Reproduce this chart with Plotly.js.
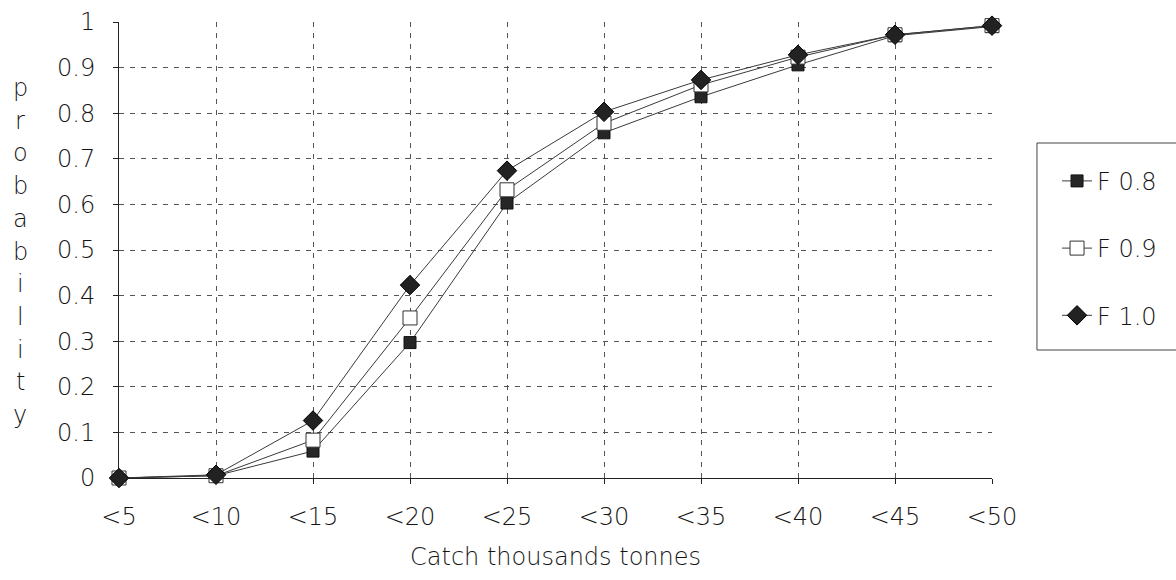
<!DOCTYPE html>
<html>
<head>
<meta charset="utf-8">
<script src="https://cdn.plot.ly/plotly-3.0.1.min.js"></script>
<style>
  html, body { margin: 0; padding: 0; background: #fff; }
  #chart { width: 1176px; height: 580px; }
</style>
</head>
<body>
<div id="chart"></div>
<script>
// Catch classes (thousands of tonnes)
const categories = ['<5', '<10', '<15', '<20', '<25', '<30', '<35', '<40', '<45', '<50'];

// Cumulative probability of catch below each class, by fishing mortality
const f08 = [0, 0.005, 0.059, 0.297, 0.603, 0.757, 0.836, 0.906, 0.97, 0.99];
const f09 = [0, 0.005, 0.083, 0.351, 0.632, 0.778, 0.862, 0.923, 0.972, 0.992];
const f10 = [0, 0.007, 0.126, 0.423, 0.674, 0.803, 0.873, 0.928, 0.972, 0.992];

const seriesNames = ['F 0.8', 'F 0.9', 'F 1.0'];
const yTitle = 'probability';
const xTitle = 'Catch thousands tonnes';

const FONT = 'DejaVu Sans, Liberation Sans, sans-serif';
const FW = 200;
const FS = 24;
const TEXT = '#151515';

const lineStyle = { color: '#3a3a3a', width: 1 };

const traces = [
  {
    x: categories, y: f08, name: seriesNames[0], legendgroup: 'a',
    mode: 'lines+markers', line: lineStyle, cliponaxis: false,
    marker: { symbol: 'square', size: 12, color: '#262626', line: { color: '#111', width: 1 } }
  },
  {
    x: categories, y: f09, name: seriesNames[1], legendgroup: 'b',
    mode: 'lines+markers', line: lineStyle, cliponaxis: false,
    marker: { symbol: 'square', size: 14, color: '#ffffff', line: { color: '#333', width: 1 } }
  },
  {
    x: categories, y: f10, name: seriesNames[2], legendgroup: 'c',
    mode: 'lines+markers', line: lineStyle, cliponaxis: false,
    marker: { symbol: 'diamond', size: 15, color: '#222', line: { color: '#000', width: 1 } }
  }
];

const fontSpec = { family: FONT, size: FS, color: TEXT, weight: FW };

// Vertical stacked y-axis title, one upright letter per row
const letterTop = 88, letterStep = 32.7, plotTop = 22, plotBottom = 478;
const annotations = yTitle.split('').map((ch, i) => ({
  text: ch, xref: 'paper', yref: 'paper', showarrow: false,
  x: -0.113, y: (plotBottom - (letterTop + i * letterStep)) / (plotBottom - plotTop),
  xanchor: 'center', yanchor: 'middle',
  font: fontSpec
}));

const layout = {
  width: 1176, height: 580,
  margin: { l: 119, r: 184, t: 22, b: 102 },
  paper_bgcolor: '#fff', plot_bgcolor: '#fff',
  showlegend: true,
  font: fontSpec,
  xaxis: {
    type: 'category', range: [0, 9], fixedrange: true,
    showline: true, linecolor: '#222', linewidth: 1,
    showgrid: true, gridcolor: '#555', gridwidth: 1, griddash: '5px,6px',
    ticks: 'outside', ticklen: 5, tickcolor: '#222',
    tickfont: fontSpec,
    ticklabelstandoff: 12,
    zeroline: false,
    title: { text: xTitle, standoff: 18, font: fontSpec }
  },
  yaxis: {
    range: [0, 1], dtick: 0.1, tick0: 0, fixedrange: true,
    showline: true, linecolor: '#222', linewidth: 1,
    showgrid: true, gridcolor: '#555', gridwidth: 1, griddash: '5px,6px',
    ticks: 'outside', ticklen: 5, tickcolor: '#222',
    tickfont: fontSpec,
    ticklabelstandoff: 13,
    zeroline: false
  },
  // Inward tick marks so the ticks cross the axis lines
  xaxis2: {
    overlaying: 'x', anchor: 'y', range: [0, 9], tick0: 0, dtick: 1,
    ticks: 'inside', ticklen: 5, tickcolor: '#222',
    showticklabels: false, showgrid: false, showline: false, zeroline: false, fixedrange: true
  },
  yaxis2: {
    overlaying: 'y', anchor: 'x', side: 'left', range: [0, 1], tick0: 0, dtick: 0.1,
    ticks: 'inside', ticklen: 5, tickcolor: '#222',
    showticklabels: false, showgrid: false, showline: false, zeroline: false, fixedrange: true
  },
  legend: {
    x: 1.0745, y: 0.70, xanchor: 'left', yanchor: 'top',
    borderwidth: 0, bgcolor: 'rgba(0,0,0,0)',
    traceorder: 'grouped', tracegroupgap: 33,
    font: fontSpec,
    itemwidth: 30
  },
  // Legend frame, running off the right edge of the page
  shapes: [{
    type: 'rect', xref: 'paper', yref: 'paper', layer: 'below',
    x0: 1.0515, x1: 1.25, y0: (plotBottom - 350) / (plotBottom - plotTop), y1: (plotBottom - 143) / (plotBottom - plotTop),
    line: { color: '#444', width: 1 }, fillcolor: 'rgba(0,0,0,0)'
  }],
  annotations: annotations
};

Plotly.newPlot('chart', traces, layout, { displayModeBar: false, staticPlot: true });
</script>
</body>
</html>
